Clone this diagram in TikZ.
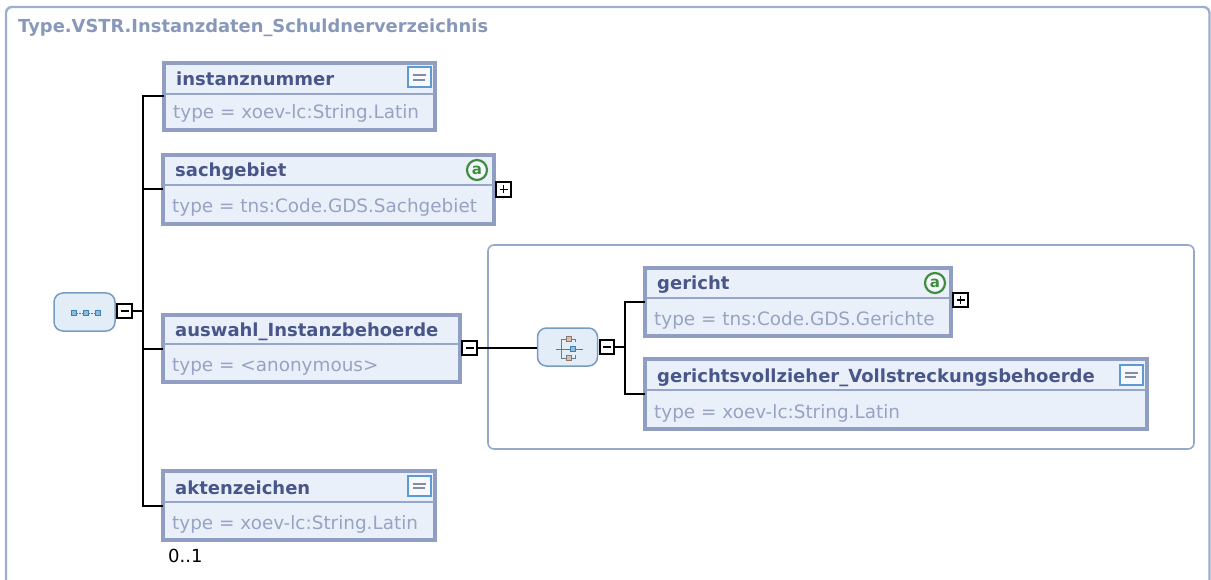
\documentclass[tikz,border=0pt]{standalone}
\usepackage{fontspec}
\setmainfont{DejaVu Sans}
\definecolor{boxborder}{RGB}{143,158,194}
\definecolor{boxfill}{RGB}{234,240,250}
\definecolor{divcol}{RGB}{150,166,202}
\definecolor{hdrcol}{RGB}{72,86,138}
\definecolor{typcol}{RGB}{150,163,194}
\definecolor{titlecol}{RGB}{136,152,186}
\definecolor{framecol}{RGB}{158,174,206}
\definecolor{grpcol}{RGB}{150,168,202}
\definecolor{iconfill}{RGB}{226,237,248}
\definecolor{iconborder}{RGB}{120,156,192}
\definecolor{listblue}{RGB}{92,154,210}
\definecolor{listline}{RGB}{128,140,168}
\definecolor{attrgreen}{RGB}{64,140,64}
\definecolor{sqblue}{RGB}{60,130,185}
\definecolor{sqbrown}{RGB}{180,150,130}
\newcommand\xsdelem[8]{%
  \node[elembox, minimum width={#4-#2-4}, minimum height={#5-#3-4}] (#1) at ({(#2+#4)/2},{(#3+#5)/2}) {};
  \draw[divline] (#2+3,#6) -- (#4-3,#6);
  \node[hdr] (#1-t) at (#2+14,#6-8) {#7};
  \node[typ] (#1-y) at (#2+11,#5-13) {#8};
}
\newcommand\xsdminus[3]{%
  \node[togbox] (#1) at (#2,#3) {};
  \draw[line width=1.8] ([xshift=-4pt]#1.center) -- ([xshift=4pt]#1.center);
}
\newcommand\xsdplus[3]{%
  \node[togbox] (#1) at (#2,#3) {};
  \draw[line width=1.8] ([xshift=-4pt]#1.center) -- ([xshift=4pt]#1.center);
  \draw[line width=1.8] ([yshift=-4pt]#1.center) -- ([yshift=4pt]#1.center);
}
\newcommand\xsdlist[3]{%
  \node[listicon] (#1) at (#2,#3) {};
  \draw[listline, line width=2pt] ([xshift=-6.5pt,yshift=2.3pt]#1.center) -- ([xshift=6.5pt,yshift=2.3pt]#1.center);
  \draw[listline, line width=2pt] ([xshift=-6.5pt,yshift=-2.3pt]#1.center) -- ([xshift=5pt,yshift=-2.3pt]#1.center);
}
\newcommand\xsdattr[3]{%
  \node[attricon] (#1) at (#2,#3) {a};
}
\begin{document}
\begin{tikzpicture}[x=1pt,y=-1pt,
  elembox/.style={draw=boxborder, fill=boxfill, line width=3.6pt, inner sep=0pt, outer sep=0pt},
  divline/.style={draw=divcol, line width=1.8pt},
  hdr/.style={anchor=base west, inner sep=0pt, text=hdrcol, font=\bfseries\fontsize{18}{22}\selectfont},
  typ/.style={anchor=base west, inner sep=0pt, text=typcol, font=\fontsize{18.4}{22}\selectfont},
  mlt/.style={anchor=base west, inner sep=0pt, text=black, font=\fontsize{18}{22}\selectfont},
  togbox/.style={draw=black, fill=white, line width=2pt, minimum size=14.5pt, inner sep=0pt},
  listicon/.style={draw=listblue, fill=white!60!boxfill, line width=2pt, minimum width=23pt, minimum height=20pt, inner sep=0pt},
  attricon/.style={circle, draw=attrgreen, fill=white!50!boxfill, line width=2.2pt, minimum size=20pt, inner sep=0pt, text=attrgreen, font=\bfseries\fontsize{15}{15}\selectfont},
  seqicon/.style={draw=iconborder, fill=iconfill, line width=1.5pt, rounded corners=9pt, inner sep=0pt},
  minisq/.style={draw=sqblue, fill=sqblue!55, line width=0.8pt, minimum size=5pt, inner sep=0pt},
  minibr/.style={draw=sqbrown!80!black, fill=sqbrown!60, line width=0.8pt, minimum size=5pt, inner sep=0pt},
  conn/.style={draw=black, line width=2pt},
  grpframe/.style={draw=grpcol, line width=1.6pt, rounded corners=6pt, inner sep=0pt}]
\useasboundingbox (0,0) rectangle (1211,580);
% outer frame and title
\draw[draw=framecol, line width=2.4pt, rounded corners=6pt] (6,7) -- (1209.5,7) -- (1209.5,640) -- (6,640) -- cycle;
\node[hdr, text=titlecol] (title) at (18,33) {\resizebox{470pt}{!}{Type.VSTR.Instanzdaten\_Schuldnerverzeichnis}};
% choice group frame
\node[grpframe, minimum width=706pt, minimum height=204pt] (grp) at (841,347) {};
% connectors
\coordinate (spine) at (143,312);
\coordinate (cspine) at (625,348);
% sequence icon
\node[seqicon, minimum width=61pt, minimum height=38pt] (seq) at (84.5,312) {};
\node[minisq] (sq1) at (74,313) {};
\node[minisq] (sq2) at (86,313) {};
\node[minisq] (sq3) at (98,313) {};
\draw[draw=sqblue, line width=0.8pt, dash pattern=on 1.5pt off 1pt] (sq1) -- (sq2) -- (sq3);
\xsdminus{seqm}{124.5}{311}
% elements
\xsdelem{inst}{162}{61}{437}{132}{94}{instanznummer}{type = xoev-lc:String.Latin}
\xsdelem{sach}{161}{153}{496}{226}{185}{sachgebiet}{type = tns:Code.GDS.Sachgebiet}
\xsdelem{ausw}{161}{313}{462}{384}{344}{auswahl\_Instanzbehoerde}{type = <anonymous>}
\xsdelem{akt}{161}{469}{437}{542}{502}{aktenzeichen}{type = xoev-lc:String.Latin}
\xsdelem{ger}{643}{266}{953}{338}{298}{gericht}{type = tns:Code.GDS.Gerichte}
\xsdelem{gvz}{643}{357}{1149}{431}{390}{gerichtsvollzieher\_Vollstreckungsbehoerde}{type = xoev-lc:String.Latin}
\draw[conn] (inst.west) -| (spine) |- (akt.west);
\draw[conn] (sach.west) -- (sach.west -| spine);
\draw[conn] (ausw.west) -- (ausw.west -| spine);
\draw[conn] (seqm.east) -- (seqm.east -| spine);
% icons on elements
\xsdlist{instl}{419.5}{77.5}
\xsdlist{aktl}{419.5}{486}
\xsdlist{gvzl}{1131}{375}
\xsdattr{sacha}{477}{170}
\xsdattr{gera}{935}{283}
\xsdplus{sachp}{503.5}{189.5}
\xsdplus{gerp}{960.5}{300}
\xsdminus{auswm}{469.5}{348}
% choice icon
\node[seqicon, minimum width=60pt, minimum height=38pt] (cho) at (567.5,347) {};
\draw[draw=iconborder!80!black, line width=1pt] ([shift={(8,-8)}]cho.center) -- ([shift={(-6,-8)}]cho.center) -- ([shift={(-6,11)}]cho.center) -- ([shift={(8,11)}]cho.center);
\draw[draw=iconborder!80!black, line width=1pt] ([shift={(8,-8)}]cho.center) -- ([shift={(8,-5)}]cho.center);
\draw[draw=iconborder!80!black, line width=1pt] ([shift={(8,11)}]cho.center) -- ([shift={(8,8)}]cho.center);
\draw[draw=sqblue, line width=1pt] ([shift={(-12,2)}]cho.center) -- ([shift={(15,2)}]cho.center);
\node[minibr] (chb1) at ([shift={(1,-8)}]cho.center) {};
\node[minibr] (chb2) at ([shift={(1,11)}]cho.center) {};
\node[minisq] (chb3) at ([shift={(5,2)}]cho.center) {};
\xsdminus{chom}{607}{347}
\draw[conn] (auswm.east) -- (auswm.east -| cho.west);
\draw[conn] (ger.west) -| (cspine) |- (gvz.west);
\draw[conn] (chom.east) -- (chom.east -| cspine);
% multiplicity
\node[mlt] (mult) at (168,562) {0..1};
\end{tikzpicture}
\end{document}
